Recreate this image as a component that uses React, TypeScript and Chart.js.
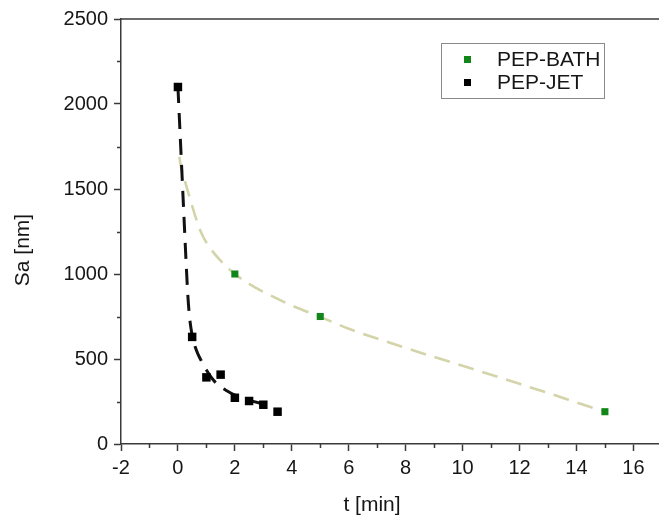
import React, { useEffect, useRef } from 'react';
import { Chart, registerables } from 'chart.js';

Chart.register(...registerables);

// Measured points
const jetTime = [0, 0.5, 1, 1.5, 2, 2.5, 3, 3.5];
const jetSa = [2100, 630, 392, 408, 272, 253, 231, 190];
const bathTime = [2, 5, 15];
const bathSa = [1000, 750, 190];

// Fitted (dashed) curves
const jetFitTime = [0, 0.05, 0.1, 0.15, 0.2, 0.25, 0.3, 0.35, 0.4, 0.45, 0.5, 0.6, 0.7, 0.85, 1.0, 1.2, 1.4, 1.7, 2.0, 2.5, 3.0];
const jetFitSa = [2100, 1920, 1740, 1560, 1380, 1200, 1025, 870, 760, 690, 640, 575, 530, 480, 435, 385, 350, 315, 288, 258, 235];
const bathFitTime = [0.05, 0.1, 0.2, 0.4, 0.6, 0.8, 1.0, 1.5, 2, 2.5, 3, 4, 5, 6, 7, 8, 9, 10, 11, 12, 13, 14, 15];
const bathFitSa = [1690, 1635, 1573, 1457, 1345, 1250, 1185, 1078, 1000, 942, 895, 815, 748, 678, 620, 565, 512, 460, 408, 354, 300, 245, 190];

// Axes
const xMin = -2;
const xMax = 16.9;
const xStep = 2;
const xMinorTicks = [-1, 1, 3, 5, 7, 9, 11, 13, 15];
const yMin = 0;
const yMax = 2500;
const yStep = 500;
const yMinorTicks = [250, 750, 1250, 1750, 2250];

const seriesNames = ['PEP-BATH', 'PEP-JET'];
const xTitle = 't [min]';
const yTitle = 'Sa [nm]';

const FONT = "'Liberation Sans', Arial, sans-serif";
const GREEN = '#13861a';
const KHAKI = '#d4d4aa';
const AXIS = '#3a3a3a';

const toXY = (xs: number[], ys: number[]) => xs.map((x, i) => ({ x, y: ys[i] }));

export default function App() {
  const ref = useRef<HTMLCanvasElement>(null);

  useEffect(() => {
    const canvas = ref.current;
    if (!canvas) return;

    const overlay = {
      id: 'overlay',
      afterDraw(chart: any) {
        const ctx = chart.ctx as CanvasRenderingContext2D;
        const { left, right, top, bottom } = chart.chartArea;
        const xs = chart.scales.x;
        const ys = chart.scales.y;
        ctx.save();
        ctx.strokeStyle = AXIS;
        ctx.lineWidth = 1.5;
        ctx.beginPath();
        ctx.moveTo(left, top);
        ctx.lineTo(right, top);
        ctx.stroke();
        ctx.beginPath();
        for (const v of xMinorTicks) {
          const px = Math.round(xs.getPixelForValue(v)) + 0.5;
          ctx.moveTo(px, bottom);
          ctx.lineTo(px, bottom + 4);
        }
        for (const v of yMinorTicks) {
          const py = Math.round(ys.getPixelForValue(v)) + 0.5;
          ctx.moveTo(left, py);
          ctx.lineTo(left - 4, py);
        }
        ctx.stroke();

        // axis titles
        ctx.fillStyle = '#161616';
        ctx.font = `21px ${FONT}`;
        ctx.textAlign = 'center';
        ctx.textBaseline = 'middle';
        ctx.fillText(xTitle, left + 251, 505);
        ctx.save();
        ctx.translate(23, 250);
        ctx.rotate(-Math.PI / 2);
        ctx.fillText(yTitle, 0, 0);
        ctx.restore();

        // legend
        ctx.strokeStyle = '#8a8a8a';
        ctx.lineWidth = 1;
        ctx.strokeRect(441.5, 43.5, 163, 55);
        ctx.fillStyle = GREEN;
        ctx.fillRect(464, 56, 7, 7);
        ctx.fillStyle = '#000';
        ctx.fillRect(464, 79, 7, 7);
        ctx.fillStyle = '#161616';
        ctx.font = `21px ${FONT}`;
        ctx.textAlign = 'left';
        ctx.fillText(seriesNames[0], 497, 60);
        ctx.fillText(seriesNames[1], 497, 83);
        ctx.restore();
      },
    };

    const chart = new Chart(canvas, {
      type: 'scatter',
      data: {
        datasets: [
          {
            label: seriesNames[0],
            data: toXY(bathTime, bathSa),
            pointStyle: 'rect',
            pointRadius: 5,
            backgroundColor: GREEN,
            borderColor: GREEN,
            borderWidth: 0,
            showLine: false,
            order: 0,
          },
          {
            label: seriesNames[1],
            data: toXY(jetTime, jetSa),
            pointStyle: 'rect',
            pointRadius: 6,
            backgroundColor: '#000',
            borderColor: '#000',
            borderWidth: 0,
            showLine: false,
            order: 0,
          },
          {
            label: 'bath fit',
            data: toXY(bathFitTime, bathFitSa),
            showLine: true,
            pointRadius: 0,
            borderColor: KHAKI,
            borderWidth: 2.6,
            borderDash: [16, 9],
            cubicInterpolationMode: 'monotone',
            order: 2,
          },
          {
            label: 'jet fit',
            data: toXY(jetFitTime, jetFitSa),
            showLine: true,
            pointRadius: 0,
            borderColor: '#111',
            borderWidth: 3,
            borderDash: [16, 10],
            cubicInterpolationMode: 'monotone',
            order: 1,
          },
        ],
      },
      options: {
        animation: false,
        responsive: false,
        maintainAspectRatio: false,
        layout: { autoPadding: false, padding: { top: 19, right: 0, left: 0, bottom: 0 } },
        plugins: {
          legend: { display: false },
          tooltip: { enabled: false },
          title: { display: false },
        },
        scales: {
          x: {
            type: 'linear',
            min: xMin,
            max: xMax,
            afterFit: (s: any) => {
              s.height = 73;
              s.paddingLeft = 0;
              s.paddingRight = 0;
            },
            ticks: {
              stepSize: xStep,
              includeBounds: false,
              color: '#161616',
              font: { family: FONT, size: 20 },
              padding: 5,
              maxRotation: 0,
            },
            grid: {
              display: true,
              drawOnChartArea: false,
              drawTicks: true,
              tickLength: 7,
              tickColor: AXIS,
              tickWidth: 1.5,
            },
            border: { display: true, color: AXIS, width: 1.5 },
          },
          y: {
            type: 'linear',
            min: yMin,
            max: yMax,
            afterFit: (s: any) => {
              s.width = 121;
              s.paddingTop = 0;
              s.paddingBottom = 0;
            },
            ticks: {
              stepSize: yStep,
              color: '#161616',
              font: { family: FONT, size: 20 },
              padding: 6,
              callback: (v: any) => String(v),
            },
            grid: {
              display: true,
              drawOnChartArea: false,
              drawTicks: true,
              tickLength: 7,
              tickColor: AXIS,
              tickWidth: 1.5,
            },
            border: { display: true, color: AXIS, width: 1.5 },
          },
        },
      },
      plugins: [overlay],
    });

    return () => chart.destroy();
  }, []);

  return (
    <div style={{ position: 'fixed', left: 0, top: 0, width: 659, height: 517, background: '#fff', overflow: 'hidden' }}>
      <canvas ref={ref} width={659} height={517} style={{ display: 'block', width: 659, height: 517 }} />
    </div>
  );
}
